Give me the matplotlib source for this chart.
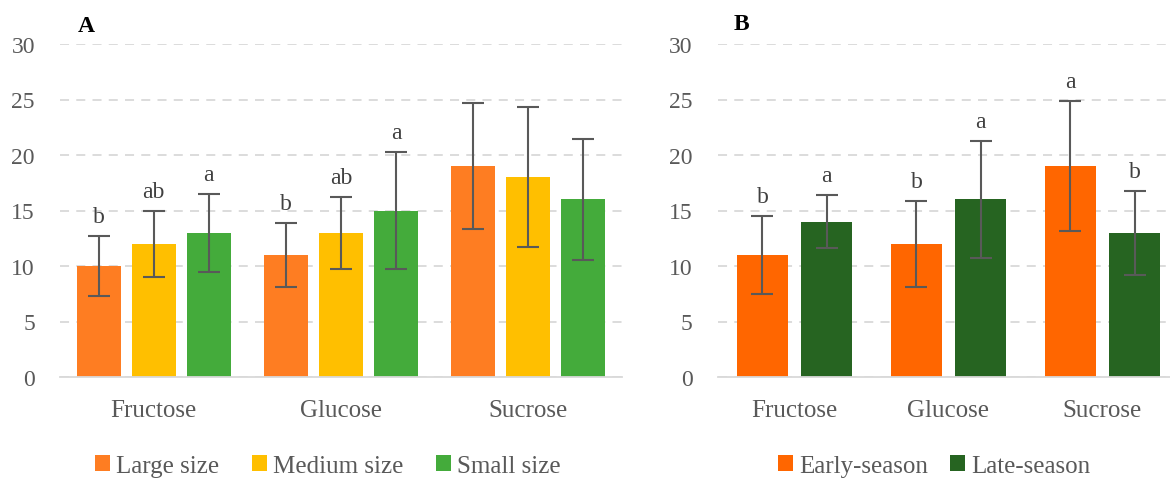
import matplotlib
matplotlib.use("Agg")
import matplotlib.pyplot as plt
import numpy as np

plt.rcParams['font.family'] = ['Liberation Serif', 'DejaVu Serif']

categories = ["Fructose", "Glucose", "Sucrose"]

# Panel A
size_series = ["Large size", "Medium size", "Small size"]
size_means = [[10, 11, 19], [12, 13, 18], [13, 15, 16]]
size_err = [[2.7, 2.9, 5.7], [3.0, 3.25, 6.3], [3.5, 5.3, 5.45]]
size_letters = [["b", "b", ""], ["ab", "ab", ""], ["a", "a", ""]]
size_colors = ["#FE7D22", "#FFBF00", "#44AB3B"]

# Panel B
season_series = ["Early-season", "Late-season"]
season_means = [[11, 12, 19], [14, 16, 13]]
season_err = [[3.5, 3.9, 5.85], [2.4, 5.25, 3.8]]
season_letters = [["b", "b", "a"], ["a", "a", "b"]]
season_colors = ["#FF6600", "#266421"]

yticks = [0, 5, 10, 15, 20, 25, 30]

W, H = 1170, 481
fig = plt.figure(figsize=(W / 100, H / 100), dpi=100)

axA = fig.add_axes([60 / W, 1 - 378 / H, 562 / W, 333 / H])
axB = fig.add_axes([717.5 / W, 1 - 378 / H, 462 / W, 333 / H])

txt_color = "#595959"
lab_color = "#404040"


def style(ax):
    ax.set_ylim(0, 30)
    ax.set_xlim(-0.5, 2.5)
    ax.set_yticks(yticks)
    ax.set_yticklabels([str(t) for t in yticks])
    ax.set_xticks(range(len(categories)))
    ax.set_xticklabels(categories)
    for s in ["top", "right", "left"]:
        ax.spines[s].set_visible(False)
    ax.spines["bottom"].set_color("#D9D9D9")
    ax.spines["bottom"].set_linewidth(1.3)
    ax.tick_params(axis="both", length=0, colors=txt_color)
    ax.tick_params(axis="x", pad=16, labelsize=18)
    ax.tick_params(axis="y", pad=18, labelsize=17)
    ax.yaxis.grid(True, linestyle=(0, (5, 4)), color="#D9D9D9", linewidth=1.3)
    ax.set_axisbelow(True)


def draw(ax, series, means, errs, letters, colors, width, offsets):
    x = np.arange(len(categories))
    handles = []
    for i, name in enumerate(series):
        xi = x + offsets[i]
        b = ax.bar(xi, means[i], width, color=colors[i], label=name, zorder=2)
        ax.errorbar(xi, means[i], yerr=errs[i], fmt="none", ecolor="#595959",
                    elinewidth=1.5, capsize=8, capthick=1.5, zorder=3)
        for xx, m, e, l in zip(xi, means[i], errs[i], letters[i]):
            if l:
                ax.text(xx, m + e + 0.8, l, ha="center", va="bottom",
                        fontsize=17, color=lab_color, zorder=4)
        handles.append(b)
    return handles


style(axA)
style(axB)
hA = draw(axA, size_series, size_means, size_err, size_letters, size_colors,
          0.235, [-0.294, 0.0, 0.294])
hB = draw(axB, season_series, season_means, season_err, season_letters,
          season_colors, 0.33, [-0.208, 0.208])

fig.text(78 / W, 1 - 27 / H, "A", fontsize=17, fontweight="bold", va="center", ha="left")
fig.text(734 / W, 1 - 25 / H, "B", fontsize=17, fontweight="bold", va="center", ha="left")

legkw = dict(frameon=False, fontsize=18, handlelength=0.6, handleheight=0.6,
             handletextpad=0.25, labelcolor=txt_color)
fig.legend(hA, size_series, loc="center", ncol=3, columnspacing=1.3,
           bbox_to_anchor=(328 / W, 1 - 467 / H), **legkw)
fig.legend(hB, season_series, loc="center", ncol=2, columnspacing=0.9,
           bbox_to_anchor=(934 / W, 1 - 467 / H), **legkw)

fig.savefig("out.png", dpi=100)
